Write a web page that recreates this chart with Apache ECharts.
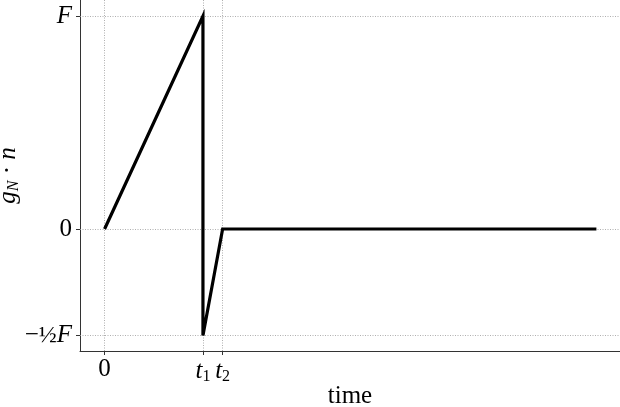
<!DOCTYPE html>
<html>
<head>
<meta charset="utf-8">
<script src="https://cdn.jsdelivr.net/npm/echarts@6/dist/echarts.min.js"></script>
<style>html,body{margin:0;padding:0;background:#fff}#main{width:620px;height:407px}</style>
</head>
<body>
<div id="main"></div>
<script>
// F = 1, t1 = 1, t2 = 1.2
var xTicks = [0, 1, 1.2];
var xTickLabels = ['{r|0}', '{i|t}{s|1}', '{i|t}{s|2}'];
var yTicks = [-0.5, 0, 1];
var yTickLabels = ['{r|−}{f|½}{i|F}', '{r|0}', '{i|F}'];
var lineX = [0, 1, 1, 1.2, 5];
var lineY = [0, 1, -0.5, 0, 0];

var serif = 'Liberation Serif';
var rich = {
    r: {fontFamily: serif, fontSize: 25, color: '#000'},
    i: {fontFamily: serif, fontSize: 25, fontStyle: 'italic', color: '#000'},
    f: {fontFamily: serif, fontSize: 24, color: '#000'},
    s: {fontFamily: serif, fontSize: 16, color: '#000', verticalAlign: 'bottom', padding: [12, 0, 0, 0]},
    si: {fontFamily: serif, fontSize: 16, fontStyle: 'italic', color: '#000', verticalAlign: 'bottom', padding: [12, 0, 0, 0]}
};

function labelFor(ticks, labels) {
    return function (v) {
        for (var k = 0; k < ticks.length; k++) {
            if (Math.abs(ticks[k] - v) < 1e-6) return labels[k];
        }
        return '';
    };
}

var myChart = echarts.init(document.getElementById('main'));
var points = [];
for (var k = 0; k < lineX.length; k++) points.push([lineX[k], lineY[k]]);

var gridStyle = {color: '#9a9a9a', width: 0.8, type: [1, 1.5]};
var marks = [];
xTicks.forEach(function (v) { marks.push({xAxis: v}); });
yTicks.forEach(function (v) { marks.push({yAxis: v}); });

var option = {
    animation: false,
    grid: {left: 80, right: 0, top: 0, bottom: 56, containLabel: false, outerBoundsMode: 'none'},
    xAxis: {
        type: 'value',
        min: -0.25,
        max: 5.24,
        name: 'time',
        nameLocation: 'middle',
        nameGap: 33,
        nameMoveOverlap: false,
        nameTextStyle: {fontFamily: serif, fontSize: 25, color: '#000'},
        axisLine: {show: true, onZero: false, lineStyle: {color: '#333', width: 1}},
        axisTick: {show: true, customValues: xTicks, length: 4, lineStyle: {color: '#333'}},
        axisLabel: {show: true, customValues: xTicks, margin: 6, formatter: labelFor(xTicks, xTickLabels), rich: rich},
        splitLine: {show: false}
    },
    yAxis: {
        type: 'value',
        min: -0.5728,
        max: 1.075,
        name: '{i|g}{si|N}{r| · }{i|n}',
        nameLocation: 'middle',
        nameGap: 58,
        nameRotate: 90,
        nameMoveOverlap: false,
        nameTextStyle: {rich: rich},
        axisLine: {show: true, onZero: false, lineStyle: {color: '#333', width: 1}},
        axisTick: {show: true, customValues: yTicks, length: 4, lineStyle: {color: '#333'}},
        axisLabel: {show: true, customValues: yTicks, margin: 8, formatter: labelFor(yTicks, yTickLabels), rich: rich},
        splitLine: {show: false}
    },
    series: [{
        type: 'line',
        data: points,
        showSymbol: false,
        symbol: 'none',
        lineStyle: {color: '#000', width: 3.2, join: 'miter'},
        z: 3,
        markLine: {
            silent: true,
            symbol: 'none',
            label: {show: false},
            lineStyle: gridStyle,
            data: marks,
            z: 1
        }
    }]
};
myChart.setOption(option, true);
</script>
</body>
</html>
